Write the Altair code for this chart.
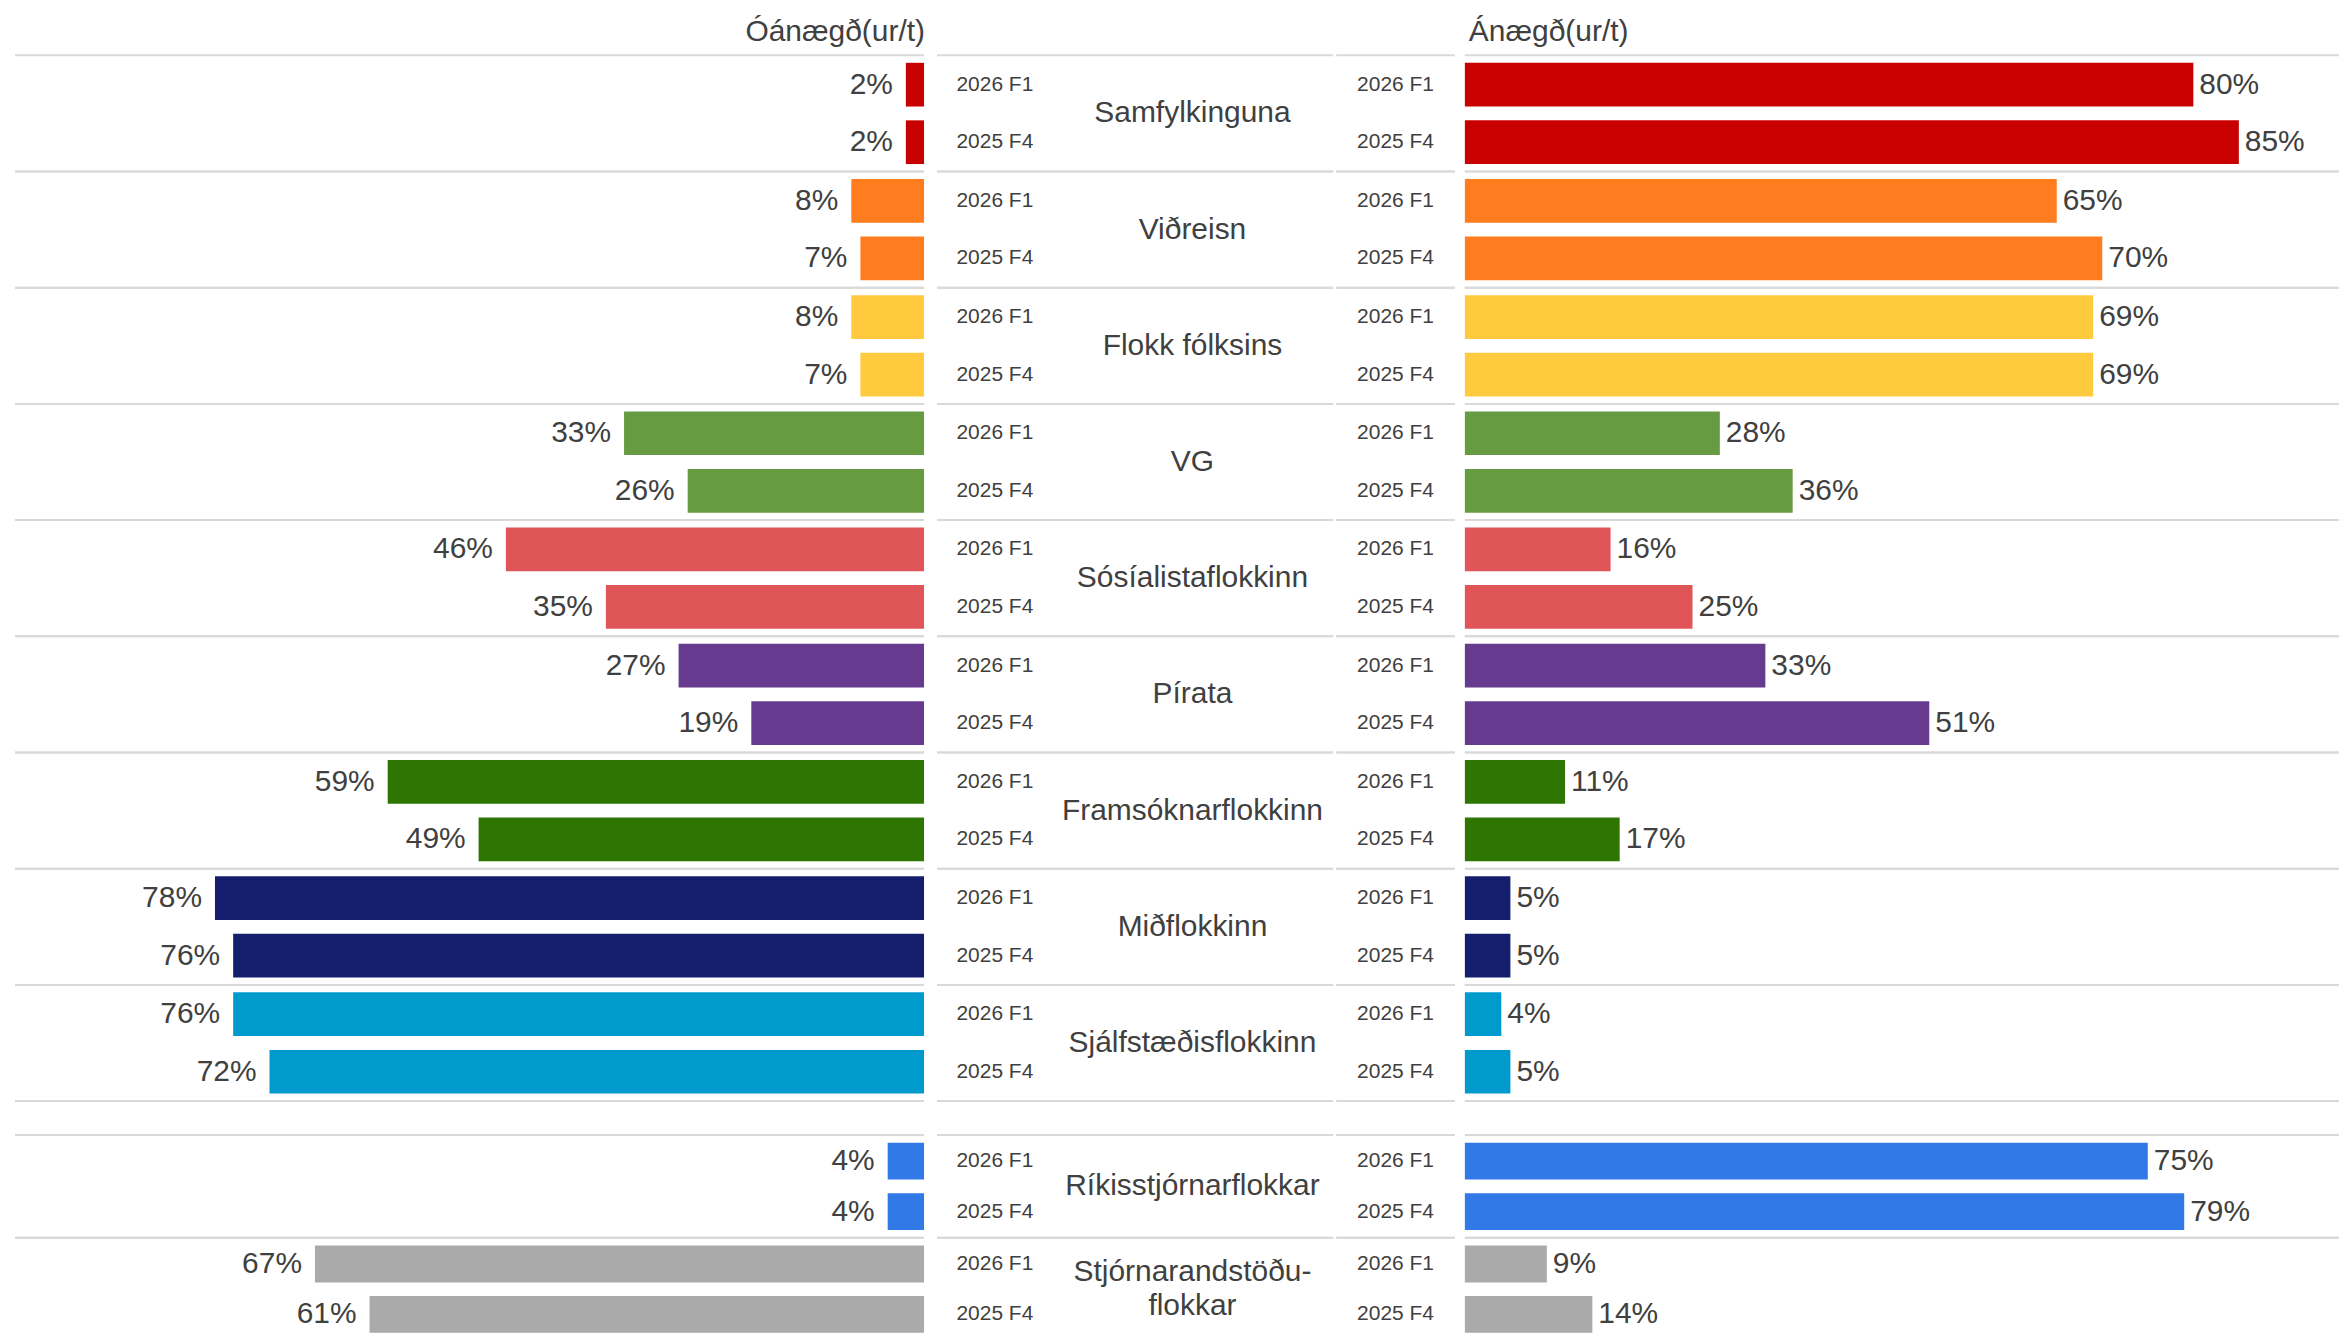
import altair as alt
import pandas as pd

periods = ["2026 F1", "2025 F4"]
parties_top = ["Samfylkinguna", "Viðreisn", "Flokk fólksins", "VG", "Sósíalistaflokkinn",
               "Pírata", "Framsóknarflokkinn", "Miðflokkinn", "Sjálfstæðisflokkinn"]
parties_bottom = ["Ríkisstjórnarflokkar", "Stjórnarandstöðuflokkar"]
labels_bottom = ["Ríkisstjórnarflokkar", "Stjórnarandstöðu-\nflokkar"]

unhappy_f1 = [2, 8, 8, 33, 46, 27, 59, 78, 76, 4, 67]
unhappy_f4 = [2, 7, 7, 26, 35, 19, 49, 76, 72, 4, 61]
happy_f1 = [80, 65, 69, 28, 16, 33, 11, 5, 4, 75, 9]
happy_f4 = [85, 70, 69, 36, 25, 51, 17, 5, 5, 79, 14]

colors = ["#C80000", "#FF7D1E", "#FFCA3E", "#669B41", "#E05558", "#663A8E",
          "#2E7502", "#141E6C", "#009ACC", "#3079E6", "#AAAAAA"]

parties = parties_top + parties_bottom
labels = parties_top + labels_bottom

rows = []
for i, p in enumerate(parties):
    for per, u, h in [(periods[0], unhappy_f1[i], happy_f1[i]), (periods[1], unhappy_f4[i], happy_f4[i])]:
        rows.append(dict(party=p, label=labels[i], period=per, unhappy=u, happy=h,
                         multiline="\n" in labels[i]))
df = pd.DataFrame(rows)

GRID = "#d9d9d9"
TXT = "#404040"
FONT = "Liberation Sans"

LW, MAW, MBW, RW = 911, 409, 130, 876


def make_section(parties_in, height, pin, pout, with_titles):
    d = df[df.party.isin(parties_in)]
    dp = d[d.period == periods[0]]
    ysc = alt.Scale(domain=parties_in, paddingInner=0, paddingOuter=0)

    def Y(bp=None):
        if bp is None:
            return alt.Y("party:N", scale=ysc, axis=None)
        return alt.Y("party:N", scale=ysc, axis=None, bandPosition=bp)

    yoff = alt.YOffset("period:N", scale=alt.Scale(domain=periods, paddingInner=pin, paddingOuter=pout))
    color = alt.Color("party:N", scale=alt.Scale(domain=parties, range=colors), legend=None)

    def rules(x0, x1):
        r = alt.Chart(dp).mark_rule(color=GRID, strokeWidth=2)
        return [r.encode(y=Y(0), x=alt.value(x0), x2=alt.value(x1)),
                r.encode(y=Y(1), x=alt.value(x0), x2=alt.value(x1))]

    xl = alt.X("unhappy:Q", scale=alt.Scale(domain=[0, 100], reverse=True), axis=None)
    left = alt.layer(
        *rules(0, LW),
        alt.Chart(d).mark_bar().encode(x=xl, y=Y(), yOffset=yoff, color=color),
        alt.Chart(d).transform_calculate(t="format(datum.unhappy, '.0f') + '%'")
        .mark_text(align="right", baseline="middle", dx=-13, fontSize=30, color=TXT)
        .encode(x=xl, y=Y(), yOffset=yoff, text="t:N"),
    ).properties(width=LW, height=height)

    cat_layers = []
    single = dp[~dp.multiline]
    multi = dp[dp.multiline]
    if len(single):
        cat_layers.append(
            alt.Chart(single).mark_text(align="center", baseline="middle", fontSize=30, color=TXT)
            .encode(x=alt.value(268), y=Y(), text="label:N"))
    if len(multi):
        cat_layers.append(
            alt.Chart(multi).mark_text(align="center", baseline="middle", fontSize=30, color=TXT,
                                       lineBreak="\n", lineHeight=34, dy=-17)
            .encode(x=alt.value(268), y=Y(), text="label:N"))

    ma = alt.layer(
        *rules(12, MAW),
        alt.Chart(d).mark_text(align="center", baseline="middle", fontSize=21, color=TXT)
        .encode(x=alt.value(70), y=Y(), yOffset=yoff, text="period:N"),
        *cat_layers,
    ).properties(width=MAW, height=height)

    mb = alt.layer(
        *rules(2, 121),
        alt.Chart(d).mark_text(align="center", baseline="middle", fontSize=21, color=TXT)
        .encode(x=alt.value(61.5), y=Y(), yOffset=yoff, text="period:N"),
    ).properties(width=MBW, height=height)

    xr = alt.X("happy:Q", scale=alt.Scale(domain=[0, 96]), axis=None)
    right = alt.layer(
        *rules(0, RW),
        alt.Chart(d).mark_bar().encode(x=xr, y=Y(), yOffset=yoff, color=color),
        alt.Chart(d).transform_calculate(t="format(datum.happy, '.0f') + '%'")
        .mark_text(align="left", baseline="middle", dx=6, fontSize=30, color=TXT)
        .encode(x=xr, y=Y(), yOffset=yoff, text="t:N"),
    ).properties(width=RW, height=height)

    if with_titles:
        tkw = dict(fontSize=30, fontWeight="normal", color=TXT, font=FONT, offset=-23, baseline="bottom")
        left = left.properties(title=alt.Title("Óánægð(ur/t)", anchor="end", **tkw))
        ma = ma.properties(title=alt.Title(" ", anchor="start", **tkw))
        mb = mb.properties(title=alt.Title(" ", anchor="start", **tkw))
        right = right.properties(title=alt.Title("Ánægð(ur/t)", anchor="start", dx=5, **tkw))

    return alt.hconcat(left, ma, mb, right, spacing=0)


upper = make_section(parties_top, 1048, 0.24, 0.13, True)
lower = make_section(parties_bottom, 206, 0.27, 0.155, False)

chart = (
    alt.vconcat(upper, lower, spacing=32)
    .resolve_scale(x="independent", y="independent", yOffset="independent")
    .properties(padding={"left": 6, "top": 8, "right": 0, "bottom": 0})
    .configure(font=FONT)
    .configure_view(stroke=None)
)

chart.save("out.html", embed_options={"renderer": "svg", "actions": False})
